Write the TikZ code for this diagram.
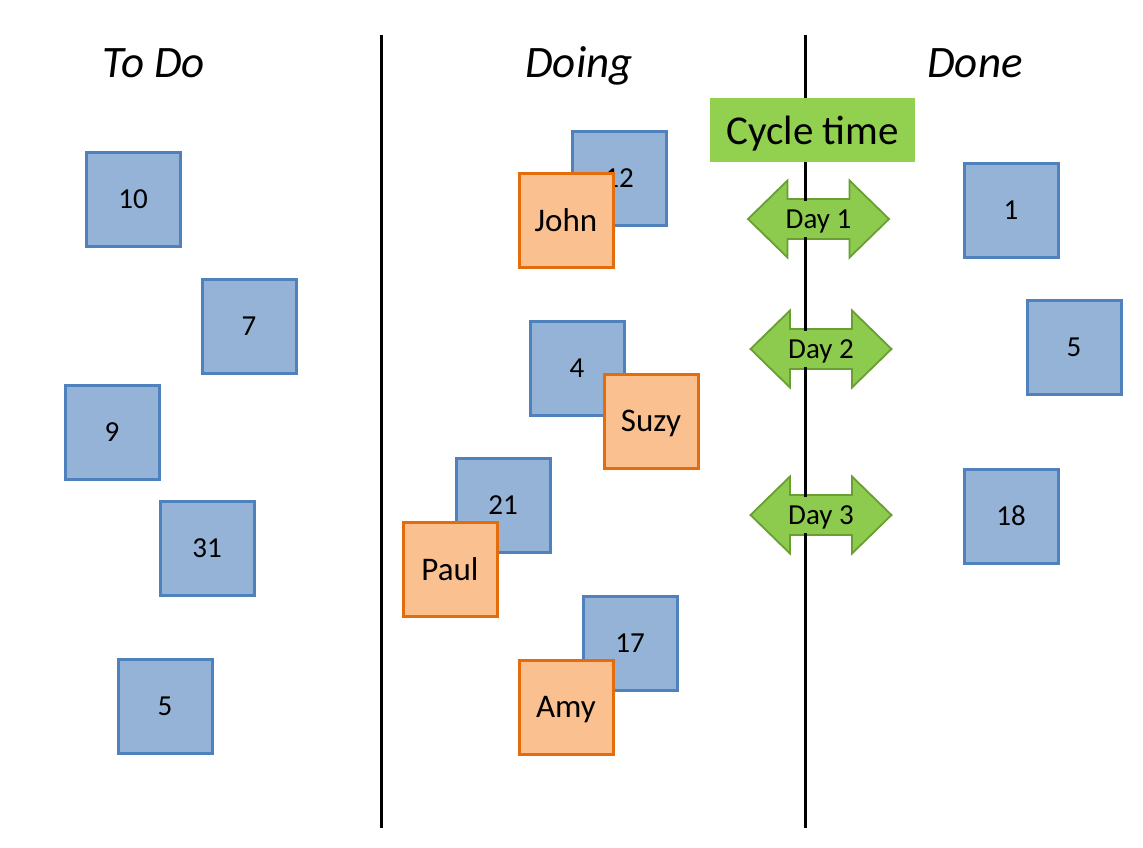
\documentclass[tikz,border=0pt]{standalone}
\usepackage{fontspec}
\setmainfont{Carlito}
\definecolor{cardline}{HTML}{4F81BD}
\definecolor{cardfill}{HTML}{95B3D7}
\definecolor{orline}{HTML}{E46C0A}
\definecolor{orfill}{HTML}{FAC090}
\definecolor{ctgreen}{HTML}{92D050}
\definecolor{arfill}{HTML}{8DCB4E}
\definecolor{arline}{HTML}{6A9E32}
\tikzset{
  card/.style={draw=cardline, fill=cardfill, line width=3pt, minimum size=94pt, inner sep=0pt, font=\fontsize{29}{34}\selectfont},
  person/.style={draw=orline, fill=orfill, line width=3pt, minimum size=94pt, inner sep=0pt, text depth=0pt, font=\fontsize{33}{40}\selectfont},
  header/.style={font=\itshape\fontsize{45}{54}\selectfont, anchor=base, inner sep=0pt},
  divider/.style={line width=3pt, black},
  dayarrow/.style={fill=arfill, draw=arline, line width=1.8pt, line join=miter},
  daylabel/.style={fill=arfill, inner xsep=0pt, inner ysep=0pt, text depth=0pt, minimum height=36pt, font=\fontsize{29}{34}\selectfont},
}
\newcommand\drawdayarrow[1]{%
  \draw[dayarrow] ([shift={(-70.5,0)}]#1) -- ([shift={(-31,-38.5)}]#1) -- ([shift={(-31,-20)}]#1)
    -- ([shift={(31,-20)}]#1) -- ([shift={(31,-38.5)}]#1) -- ([shift={(70.5,0)}]#1)
    -- ([shift={(31,38.5)}]#1) -- ([shift={(31,20)}]#1) -- ([shift={(-31,20)}]#1)
    -- ([shift={(-31,38.5)}]#1) -- cycle;}
\begin{document}
\begin{tikzpicture}[x=1pt,y=-1pt]
\useasboundingbox[fill=white] (0,0) rectangle (1143,847);
% headers
\node[header] (htodo) at (154,77) {To Do};
\node[header] (hdoing) at (579,77) {Doing};
\node[header] (hdone) at (975,77) {Done};
% day arrows (behind dividers)
\coordinate (a1) at (818.5,219);
\coordinate (a2) at (821,349);
\coordinate (a3) at (821,515);
\drawdayarrow{a1}
\drawdayarrow{a2}
\drawdayarrow{a3}
% dividers
\coordinate (d1t) at (381,35); \coordinate (d1b) at (381,828);
\coordinate (d2t) at (805,35); \coordinate (d2b) at (805,828);
\draw[divider] (d1t) -- (d1b);
\draw[divider] (d2t) -- (d2b);
% day labels
\node[daylabel] (day1) at (a1) {Day 1};
\node[daylabel] (day2) at (a2) {Day 2};
\node[daylabel] (day3) at (a3) {Day 3};
% cycle time
\node[fill=ctgreen, minimum width=205pt, minimum height=64pt, inner sep=0pt, text depth=0pt, font=\fontsize{41}{48}\selectfont] (ct) at (812.5,130) {Cycle time};
% To Do cards
\node[card] (c10) at (133,199) {10};
\node[card] (c7) at (249,326) {7};
\node[card] (c9) at (112,432) {9};
\node[card] (c31) at (207,548) {31};
\node[card] (c5a) at (165,706) {5};
% Doing cards
\node[card] (c12) at (619,178) {12};
\node[person] (john) at (566,220) {John};
\node[card] (c4) at (577,368) {4};
\node[person] (suzy) at (651,421) {Suzy};
\node[card] (c21) at (503,505) {21};
\node[person] (paul) at (450,569) {Paul};
\node[card] (c17) at (630,643) {17};
\node[person] (amy) at (566,707) {Amy};
% Done cards
\node[card] (c1) at (1011,210) {1};
\node[card] (c5b) at (1074,347) {5};
\node[card] (c18) at (1011,516) {18};
\end{tikzpicture}
\end{document}
